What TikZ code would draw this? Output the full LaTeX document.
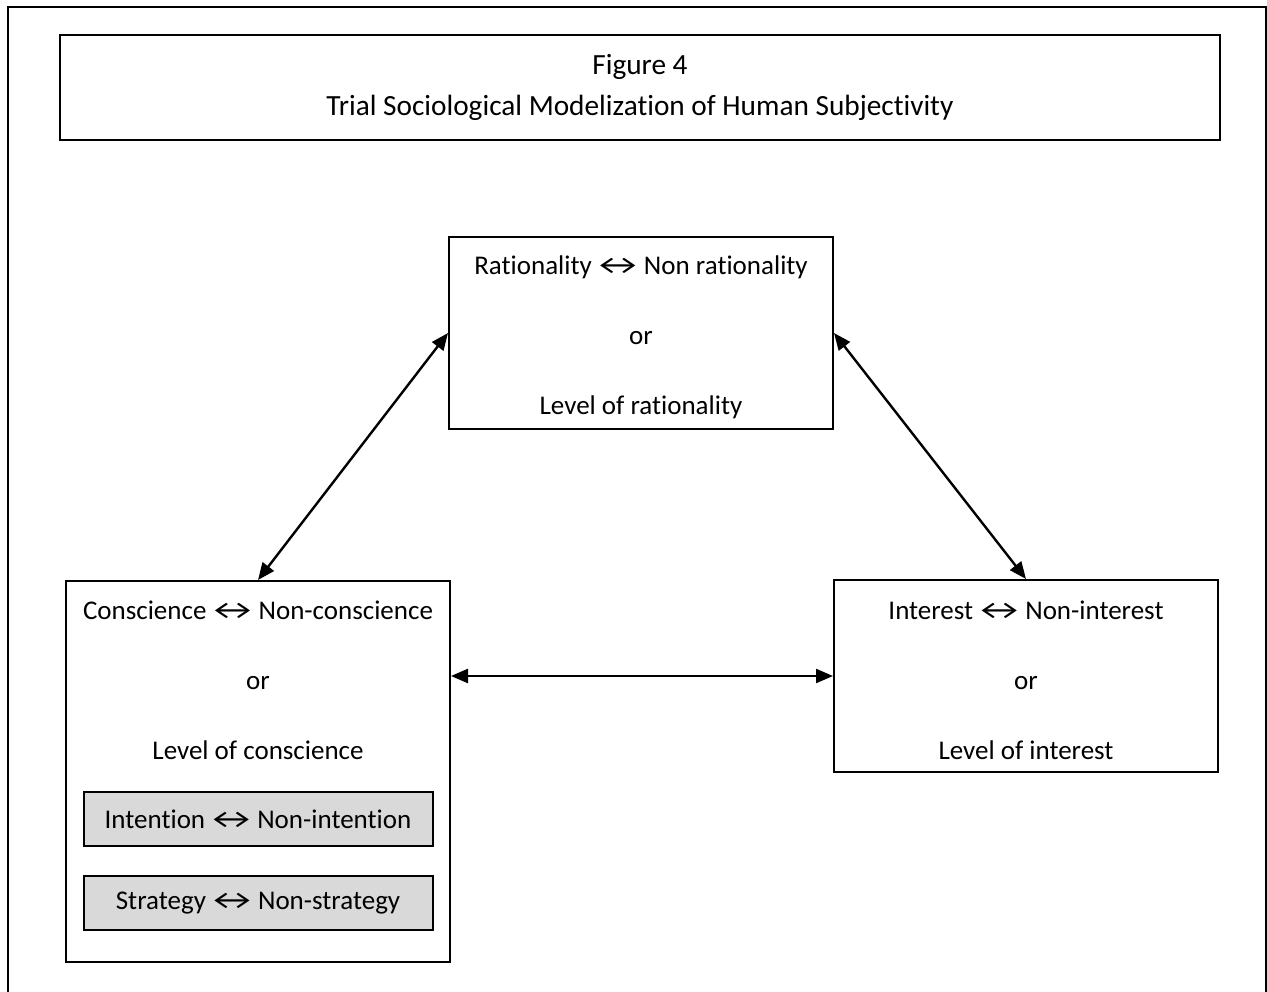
\documentclass[tikz,border=0pt]{standalone}
\usepackage{fontspec}
\setmainfont{Carlito}[Ligatures=NoCommon]
\usepackage{graphicx}
\usepackage{tikz}
\usetikzlibrary{arrows.meta,positioning,calc}
\definecolor{boxgray}{RGB}{217,217,217}
\newcommand{\lra}{\hspace{-7pt}\scalebox{1.55}[1.05]{↔}\hspace{-7pt}}
\tikzset{
  frm/.style={draw=black, line width=2pt},
  blk/.style={frm, fill=white, inner sep=0pt, minimum width=384pt},
  sub/.style={frm, fill=boxgray, inner sep=0pt, minimum width=349pt, minimum height=54pt,
              font=\fontsize{27}{32}\selectfont},
  txt/.style={align=center, inner sep=0pt, font=\fontsize{27}{70}\selectfont},
  ttl/.style={frm, inner sep=0pt, minimum width=1160pt, minimum height=105pt,
              align=center, font=\fontsize{29.3}{41}\selectfont},
  link/.style={{Triangle[length=17pt,width=14pt]}-{Triangle[length=17pt,width=14pt]}, line width=2.4pt},
}
\begin{document}
\begin{tikzpicture}[x=1pt,y=-1pt]
    \useasboundingbox (0,0) rectangle (1267,992);
    % page frame, open at the bottom
    \draw[line width=2pt] (8,992) -- (8,7) -- (1266,7) -- (1266,992);
    \node[ttl] (title) at (640,87.5) {Figure 4\\Trial Sociological Modelization of Human Subjectivity};
    % the three boxes
    \node[blk, minimum height=192pt] (rat) at (641,333) {};
    \node[txt] (ratTxt) at ($(rat.center)+(0,4)$) {Rationality \lra{} Non rationality\\or\\Level of rationality};
    \node[blk, minimum height=381pt, anchor=north] (cons) at (258,580) {};
    \node[txt, below=100pt of cons.north, anchor=center] (consTxt) {Conscience \lra{} Non-conscience\\or\\Level of conscience};
    \node[blk, minimum height=192pt] (inter) at (1026,676) {};
    \node[txt] (interTxt) at ($(inter.center)+(0,4)$) {Interest \lra{} Non-interest\\or\\Level of interest};
    \node[sub] (intent) at (258,819) {Intention \lra{} Non-intention};
    \node[sub, below=28pt of intent] (strat) {Strategy \lra{} Non-strategy};
    % links
    \draw[link] (cons.north) -- (rat.west);
    \draw[link] (rat.east) -- (inter.north);
    \draw[link] (inter.west -| cons.east) -- (inter.west);
\end{tikzpicture}
\end{document}
